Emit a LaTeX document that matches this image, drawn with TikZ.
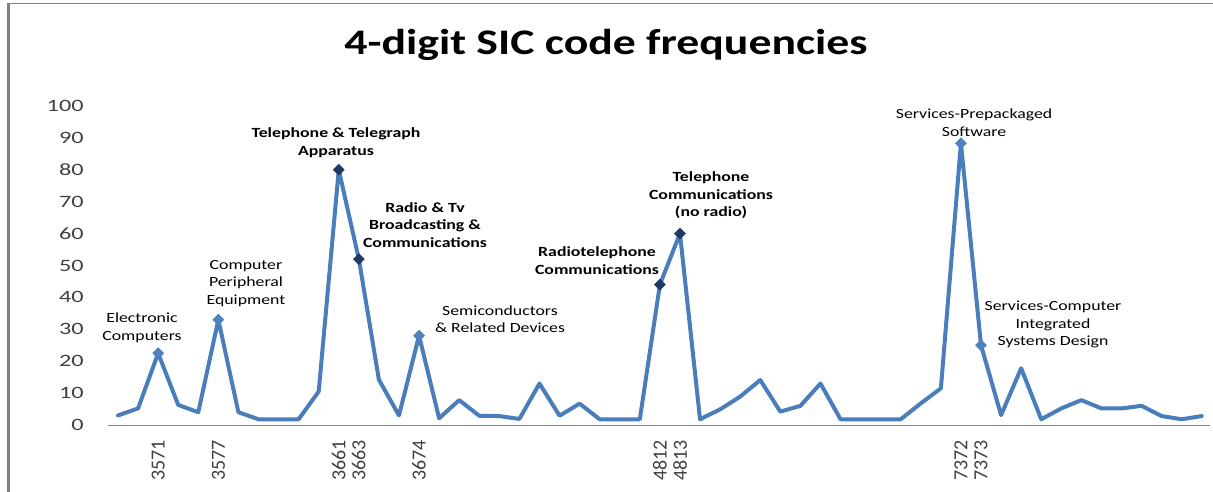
\documentclass[tikz,border=0pt]{standalone}
\usepackage{fontspec}
\setmainfont{Carlito}
\usetikzlibrary{shapes.geometric}
\definecolor{serieblue}{HTML}{4A7EBB}
\definecolor{markblue}{HTML}{4F81BD}
\definecolor{marknavy}{HTML}{1F3864}
\definecolor{framegray}{HTML}{7F7F7F}
\definecolor{axisgray}{HTML}{868686}
\definecolor{ticktext}{HTML}{404040}
\tikzset{
  dataline/.style={draw=serieblue, line width=3pt, line join=round, line cap=round},
  lmark/.style={shape=diamond, fill=markblue, inner sep=0pt, minimum size=9pt},
  dmark/.style={shape=diamond, fill=marknavy, inner sep=0pt, minimum size=9pt},
  annreg/.style={font=\fontsize{10.5}{13.2}\selectfont, align=center, inner sep=0pt, xscale=1.27, transform shape},
  annbold/.style={font=\bfseries\fontsize{10.5}{13.2}\selectfont, align=center, inner sep=0pt, xscale=1.27, transform shape},
  ylab/.style={font=\fontsize{13}{15}\selectfont, text=ticktext, inner sep=0pt, anchor=east, xscale=1.4, transform shape},
  xlab/.style={font=\fontsize{15}{17}\selectfont, text=ticktext, inner sep=0pt, anchor=east, rotate=90},
  titlestyle/.style={font=\bfseries\fontsize{27}{32}\selectfont, inner sep=0pt, xscale=1.27, transform shape},
  framestyle/.style={draw=framegray},
  axisstyle/.style={draw=axisgray, line width=0.9pt}
}
\begin{document}
\begin{tikzpicture}[x=0.75pt,y=-0.75pt]
\useasboundingbox (0,0) rectangle (1213,492);
% frame
\draw[framestyle, line width=2.25pt] (8.5,3) -- (8.5,492);
\draw[framestyle, line width=0.9pt] (7,3.5) -- (1213,3.5);
% title
\node[titlestyle] (title) at (606,45) {4-digit SIC code frequencies};
% y labels
\foreach \v in {0,10,...,100} {
  \node[ylab] (y\v) at (84,{425-3.19*\v}) {\v};
}
% axis
\draw[axisstyle] (108,425.5) -- (1210,425.5);
% x labels
\node[xlab] (x3571) at (158.1,440) {3571};
\node[xlab] (x3577) at (218.4,440) {3577};
\node[xlab] (x3661) at (338.8,440) {3661};
\node[xlab] (x3663) at (358.8,440) {3663};
\node[xlab] (x3674) at (419.0,440) {3674};
\node[xlab] (x4812) at (659.9,440) {4812};
\node[xlab] (x4813) at (680.0,440) {4813};
\node[xlab] (x7372) at (960.9,440) {7372};
\node[xlab] (x7373) at (981.0,440) {7373};
% data
\begin{scope}[shift={(118,425)}, x=15.0525pt, y=2.3925pt]
\draw[dataline] plot coordinates {
(0,3) (1,5.2) (2,22.5) (3,6.3) (4,4) (5,33) (6,4) (7,1.8) (8,1.8) (9,1.8)
(10,10.5) (11,80) (12,52) (13,14.2) (14,3) (15,28) (16,2.1) (17,7.8) (18,2.9) (19,2.8)
(20,1.9) (21,13) (22,2.9) (23,6.7) (24,1.8) (25,1.8) (26,1.8) (27,44) (28,60) (29,1.8)
(30,4.9) (31,8.9) (32,14.1) (33,4.2) (34,6) (35,13) (36,1.8) (37,1.8) (38,1.8) (39,1.8)
(40,6.8) (41,11.5) (42,88.3) (43,25) (44,3.1) (45,17.8) (46,1.8) (47,5.2) (48,7.8) (49,5.2)
(50,5.2) (51,6) (52,2.8) (53,1.8) (54,2.8)
};
\node[lmark] (m3571) at (2,22.5) {};
\node[lmark] (m3577) at (5,33) {};
\node[dmark] (m3661) at (11,80) {};
\node[dmark] (m3663) at (12,52) {};
\node[lmark] (m3674) at (15,28) {};
\node[dmark] (m4812) at (27,44) {};
\node[dmark] (m4813) at (28,60) {};
\node[lmark] (m7372) at (42,88.3) {};
\node[lmark] (m7373) at (43,25) {};
\end{scope}
% annotations
\node[annreg] (a3571) at (142,328) {Electronic\\Computers};
\node[annreg] (a3577) at (246,283.5) {Computer\\Peripheral\\Equipment};
\node[annbold] (a3661) at (336,142.5) {Telephone \& Telegraph\\Apparatus};
\node[annbold] (a3663) at (425,225) {Radio \& Tv\\Broadcasting \&\\Communications};
\node[annreg] (a3674) at (500,319) {Semiconductors\\\& Related Devices};
\node[annbold] (a4812) at (597,260.5) {Radiotelephone\\Communications};
\node[annbold] (a4813) at (711,195.5) {Telephone\\Communications\\(no radio)};
\node[annreg] (a7372) at (974,122.5) {Services-Prepackaged\\Software};
\node[annreg] (a7373) at (1053,324.5) {Services-Computer\\Integrated\\Systems Design};
\end{tikzpicture}
\end{document}
